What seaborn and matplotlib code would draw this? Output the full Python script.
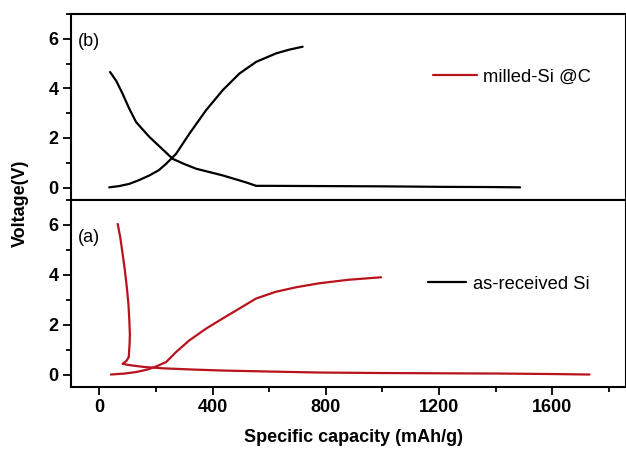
import pandas as pd
import numpy as np
import seaborn as sns
import matplotlib.pyplot as plt
from matplotlib.lines import Line2D
from matplotlib.ticker import MultipleLocator

# (b) milled-Si @C curves (drawn black in the original)
bDisCap = [38, 60, 82, 105, 130, 177, 220, 259, 300, 342, 436, 518, 554, 600, 800, 1000, 1200, 1400, 1486]
bDisV = [4.66, 4.3, 3.79, 3.2, 2.64, 2.04, 1.58, 1.16, 0.95, 0.76, 0.49, 0.21, 0.07, 0.07, 0.06, 0.05, 0.03, 0.02, 0.01]
bChgCap = [35, 70, 106, 140, 177, 210, 236, 271, 318, 377, 436, 495, 554, 624, 670, 718]
bChgV = [0.01, 0.06, 0.15, 0.3, 0.49, 0.7, 0.96, 1.36, 2.17, 3.12, 3.93, 4.6, 5.07, 5.41, 5.56, 5.68]

# (a) as-received Si curves (drawn red in the original)
aDisCap = [65, 74, 82, 90, 97, 103, 106, 108, 107, 104, 96, 82, 100, 118, 160, 224, 330, 436, 600, 777, 1000, 1200, 1400, 1600, 1731]
aDisV = [6.04, 5.5, 4.87, 4.2, 3.52, 2.8, 2.18, 1.6, 1.24, 0.7, 0.55, 0.43, 0.39, 0.36, 0.3, 0.25, 0.2, 0.16, 0.12, 0.08, 0.06, 0.05, 0.04, 0.02, 0.0]
aChgCap = [41, 90, 130, 170, 200, 236, 271, 318, 377, 436, 495, 554, 624, 695, 777, 880, 995]
aChgV = [0.0, 0.04, 0.1, 0.2, 0.32, 0.5, 0.9, 1.37, 1.84, 2.25, 2.65, 3.05, 3.32, 3.5, 3.66, 3.8, 3.9]

xTicks = [0, 400, 800, 1200, 1600]
yTicks = [0, 2, 4, 6]

red = '#b8121c'

sns.set_style('ticks')
plt.rcParams['font.family'] = ['Liberation Sans', 'DejaVu Sans']
plt.rcParams['text.color'] = 'black'
plt.rcParams['xtick.color'] = 'black'
plt.rcParams['ytick.color'] = 'black'
plt.rcParams['axes.edgecolor'] = 'black'

fig = plt.figure(figsize=(6.26, 4.5), dpi=100)
axB = fig.add_axes([0.1134, 0.5556, 0.8866, 0.4133])
axA = fig.add_axes([0.1134, 0.1400, 0.8866, 0.4156])

bDis = pd.DataFrame({'cap': bDisCap, 'v': bDisV})
bChg = pd.DataFrame({'cap': bChgCap, 'v': bChgV})
aDis = pd.DataFrame({'cap': aDisCap, 'v': aDisV})
aChg = pd.DataFrame({'cap': aChgCap, 'v': aChgV})

kw = dict(sort=False, estimator=None, lw=1.6, solid_joinstyle='round')
sns.lineplot(data=bDis, x='cap', y='v', color='black', ax=axB, **kw)
sns.lineplot(data=bChg, x='cap', y='v', color='black', ax=axB, **kw)
sns.lineplot(data=aDis, x='cap', y='v', color=red, ax=axA, **kw)
sns.lineplot(data=aChg, x='cap', y='v', color=red, ax=axA, **kw)

for ax in (axA, axB):
    ax.set_xlim(-100, 1860)
    ax.set_ylim(-0.5, 7)
    ax.set_yticks(yTicks)
    ax.yaxis.set_minor_locator(MultipleLocator(1))
    ax.set_xlabel('')
    ax.set_ylabel('')
    for s in ax.spines.values():
        s.set_visible(True)
        s.set_linewidth(1.5)
    ax.tick_params(axis='both', which='major', direction='out', length=6, width=1.3,
                   labelsize=13, pad=3)
    ax.tick_params(axis='both', which='minor', direction='out', length=3.5, width=1.3)
    for lab in ax.get_yticklabels():
        lab.set_fontweight('bold')

axA.set_xticks(xTicks)
axA.xaxis.set_minor_locator(MultipleLocator(200))
for lab in axA.get_xticklabels():
    lab.set_fontweight('bold')
axB.set_xticks([])
axB.tick_params(axis='x', which='both', bottom=False, labelbottom=False)

axB.text(-35, 5.9, '(b)', fontsize=13, va='center', ha='center')
axA.text(-35, 5.5, '(a)', fontsize=13, va='center', ha='center')

axB.legend(handles=[Line2D([], [], color=red, lw=1.6)], labels=['milled-Si @C'],
           loc='center left', bbox_to_anchor=(0.636, 0.66), frameon=False,
           fontsize=13.2, handlelength=2.4, handletextpad=0.3, borderpad=0)
axA.legend(handles=[Line2D([], [], color='black', lw=1.6)], labels=['as-received Si'],
           loc='center left', bbox_to_anchor=(0.626, 0.55), frameon=False,
           fontsize=13.2, handlelength=2.1, handletextpad=0.4, borderpad=0)

fig.text(0.565, 0.028, 'Specific capacity (mAh/g)', ha='center', va='center',
         fontsize=13, fontweight='bold')
fig.text(0.032, 0.549, 'Voltage(V)', ha='center', va='center', rotation=90,
         fontsize=13, fontweight='bold')

fig.savefig('out.png', dpi=100)
